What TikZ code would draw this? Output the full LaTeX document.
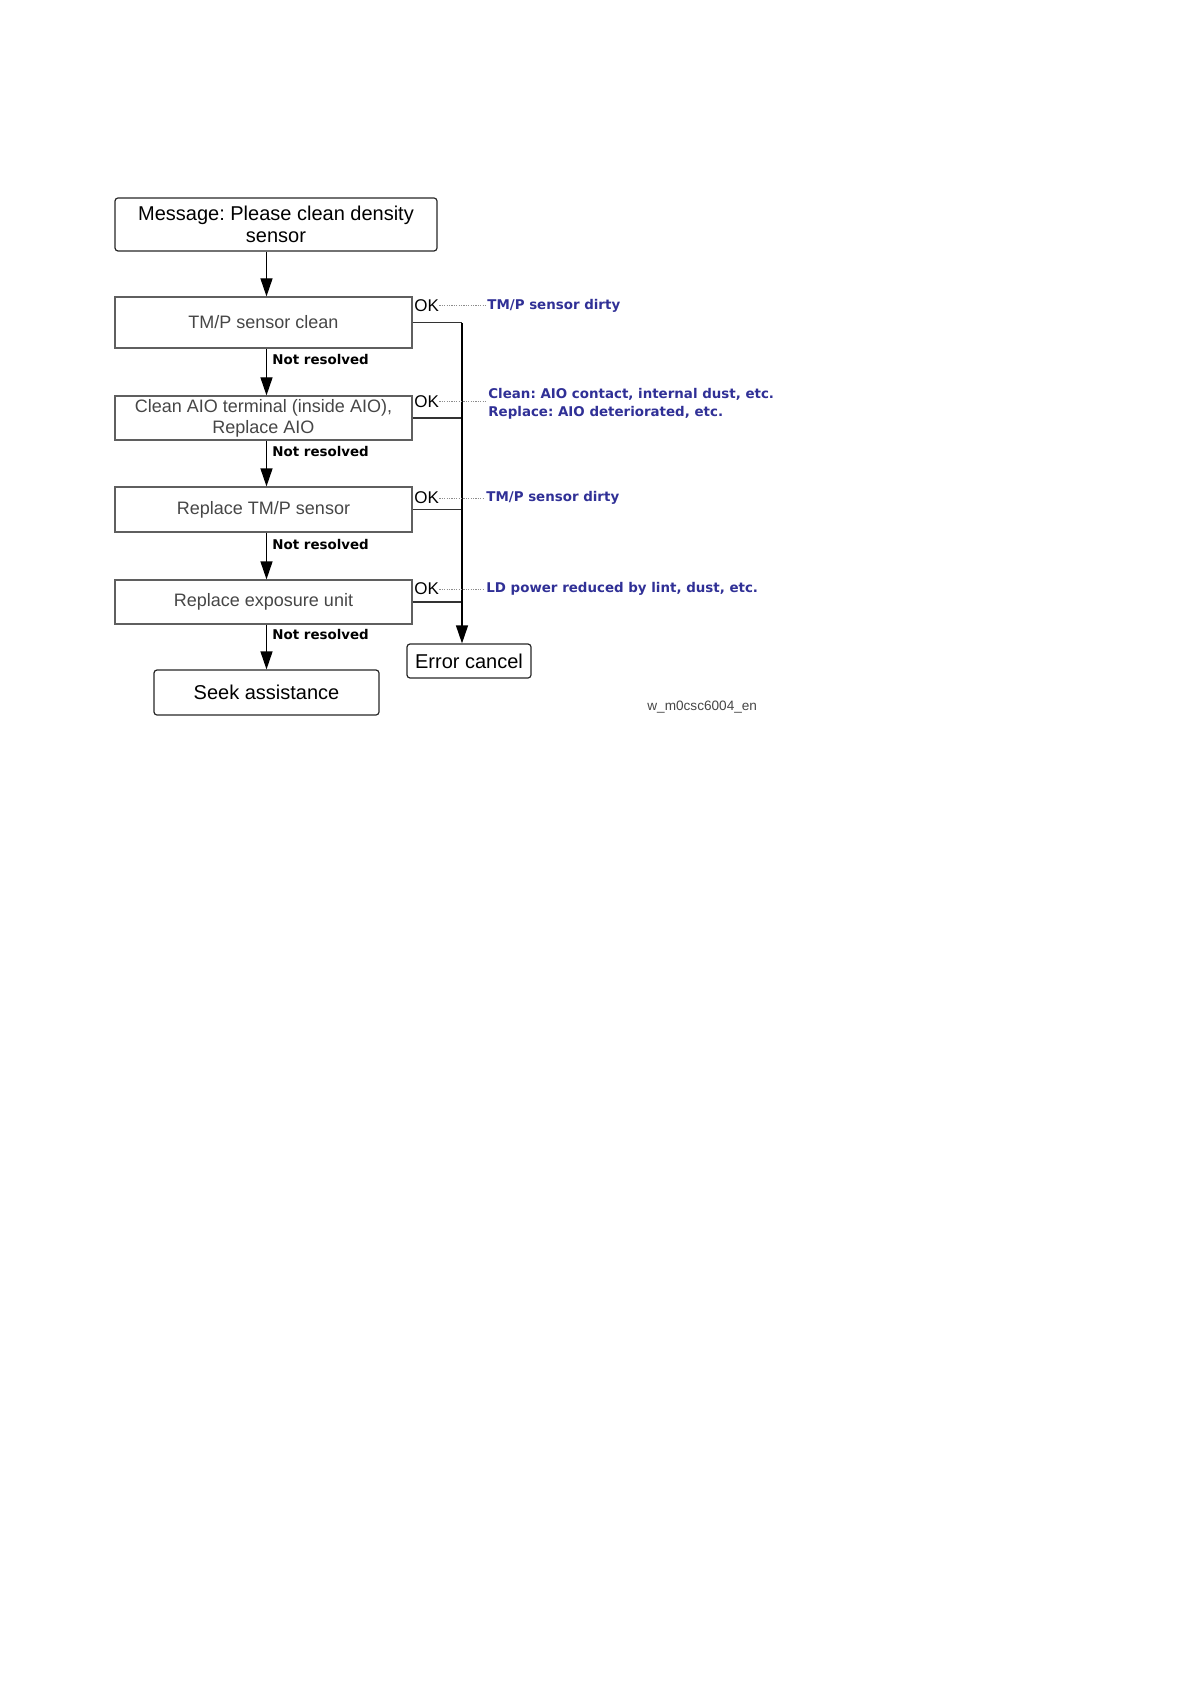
\documentclass[tikz,border=0pt]{standalone}
\usepackage{fontspec}
\setmainfont{Liberation Sans}
\newfontfamily\verdana{DejaVu Sans}
\usetikzlibrary{arrows.meta}
\frenchspacing

\definecolor{cblue}{RGB}{48,48,150}
\definecolor{cgray}{RGB}{70,70,70}
\definecolor{cframe}{RGB}{95,95,95}
\definecolor{cdot}{RGB}{140,140,140}

\begin{document}
\begin{tikzpicture}[x=0.5pt, y=-0.5pt,
  box/.style={draw=cframe, line width=0.6pt, align=center, inner sep=1pt,
              text=cgray, minimum width=148.5pt,
              font=\fontsize{9}{10.5}\selectfont},
  endbox/.style={draw=black!85, rounded corners=1.5pt, line width=0.6pt,
                 align=center, inner sep=1pt,
                 font=\fontsize{10}{11}\selectfont},
  nres/.style={anchor=west, inner sep=0pt,
               font=\verdana\bfseries\fontsize{6.7}{8}\selectfont},
  ok/.style={anchor=west, inner sep=0pt, font=\fontsize{8.5}{10}\selectfont},
  note/.style={anchor=west, inner sep=0pt, align=left, text=cblue,
               font=\verdana\bfseries\fontsize{6.7}{9}\selectfont},
  ar/.style={-{Triangle[length=9pt,width=6pt]}, line width=0.6pt},
  ln/.style={line width=0.6pt, black!80},
  dots/.style={cdot, line width=0.5pt, dash pattern=on 0.6pt off 0.6pt,
               shorten >=1pt},
]
\useasboundingbox (0,0) rectangle (1191,1684);
% --- main column ------------------------------------------------------
\node[endbox, minimum width=161pt, minimum height=26.5pt] (msg) at (276,224.5)
  {Message: Please clean density\\sensor};
\node[box, minimum height=25.5pt] (tmp) at (263.5,322.5) {TM/P sensor clean};
\node[box, minimum height=22pt] (aio) at (263.5,418)
  {Clean AIO terminal (inside AIO),\\Replace AIO};
\node[box, minimum height=22.5pt] (rtmp) at (263.5,509.5) {Replace TM/P sensor};
\node[box, minimum height=22pt] (expo) at (263.5,602) {Replace exposure unit};
\node[endbox, minimum width=112.5pt, minimum height=22.5pt] (seek)
  at (266.5,692.5) {Seek assistance};
\node[endbox, minimum width=62pt, minimum height=17pt] (err) at (469,661)
  {Error cancel};

\draw[ar] (msg.south -| seek.north) -- (tmp.north -| seek.north);
\draw[ar] (tmp.south -| seek.north) -- (aio.north -| seek.north);
\draw[ar] (aio.south -| seek.north) -- (rtmp.north -| seek.north);
\draw[ar] (rtmp.south -| seek.north) -- (expo.north -| seek.north);
\draw[ar] (expo.south -| seek.north) -- (seek.north);

\node[nres] (nr1) at (272,360) {Not resolved};
\node[nres] (nr2) at (272,452) {Not resolved};
\node[nres] (nr3) at (272,545) {Not resolved};
\node[nres] (nr4) at (272,635) {Not resolved};

% --- OK branches join the trunk down to the error cancel ---------------
\coordinate (trunk) at (462,323);
\draw[ln] (tmp.east) -- (tmp.east -| trunk);
\draw[ln] (aio.east) -- (aio.east -| trunk);
\draw[ln] (rtmp.east) -- (rtmp.east -| trunk);
\draw[ln] (expo.east) -- (expo.east -| trunk);
\draw[ar] (trunk) -- (err.north -| trunk);

\node[ok] (ok1) at (414,306) {OK};
\node[ok] (ok2) at (414,402) {OK};
\node[ok] (ok3) at (414,498) {OK};
\node[ok] (ok4) at (414,589) {OK};

\node[note] (n1) at (487,306) {TM/P sensor dirty};
\node[note] (n2) at (488,404)
  {Clean: AIO contact, internal dust, etc.\\Replace: AIO deteriorated, etc.};
\node[note] (n3) at (486,498) {TM/P sensor dirty};
\node[note] (n4) at (486,589) {LD power reduced by lint, dust, etc.};

\draw[dots] (ok1.east) -- (ok1.east -| n1.west);
\draw[dots] (ok2.east) -- (ok2.east -| n2.west);
\draw[dots] (ok3.east) -- (ok3.east -| n3.west);
\draw[dots] (ok4.east) -- (ok4.east -| n4.west);

\node[anchor=west, inner sep=0pt, text=cgray,
      font=\fontsize{6.8}{8}\selectfont] (fig) at (647,707) {w\_m0csc6004\_en};
\end{tikzpicture}
\end{document}
